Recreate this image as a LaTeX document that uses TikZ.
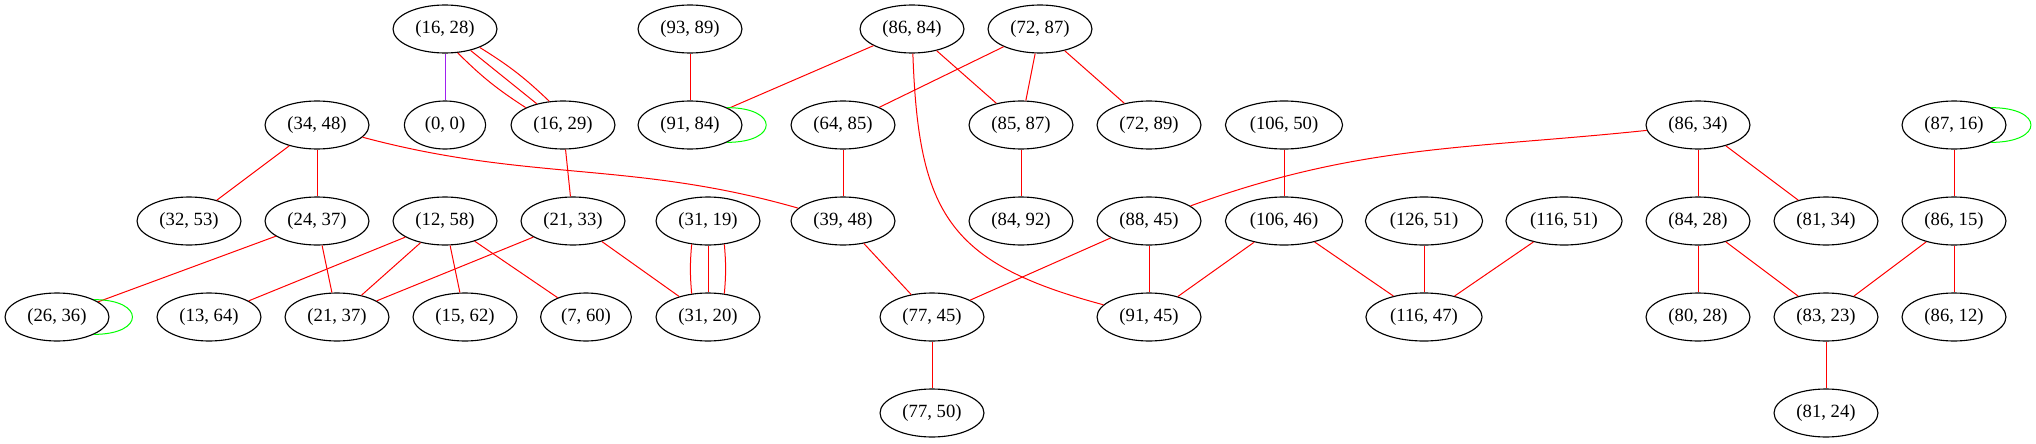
\documentclass[tikz,border=0pt]{standalone}
\usepackage{fontspec}
\setmainfont{Liberation Serif}
\usetikzlibrary{shapes.geometric}
\definecolor{gvpurple}{RGB}{160,32,240}

\begin{document}
\begin{tikzpicture}[
    x=0.75pt, y=-0.75pt,
    vert/.style={ellipse, draw, line width=0.85pt, inner xsep=5.4pt, inner ysep=2pt, minimum width=61pt, minimum height=36pt, font=\fontsize{14}{16}\selectfont},
    link/.style={red, line width=0.75pt},
    purplelink/.style={gvpurple, line width=0.75pt},
    selfloop/.style={green, line width=0.75pt}
]
    \useasboundingbox (0,0) rectangle (2036,443);

    % Baris 1
    \node[vert] (n1628) at (445,29) {(16, 28)};
    \node[vert] (n9389) at (690,29) {(93, 89)};
    \node[vert] (n8684) at (912,29) {(86, 84)};
    \node[vert] (n7287) at (1040,29) {(72, 87)};

    % Baris 2
    \node[vert] (n3448) at (317,125) {(34, 48)};
    \node[vert] (n00) at (445,125) {(0, 0)};
    \node[vert] (n1629) at (563,125) {(16, 29)};
    \node[vert] (n9184) at (690,125) {(91, 84)};
    \node[vert] (n6485) at (843,125) {(64, 85)};
    \node[vert] (n8587) at (1021,125) {(85, 87)};
    \node[vert] (n7289) at (1149,125) {(72, 89)};
    \node[vert] (n10650) at (1284,125) {(106, 50)};
    \node[vert] (n8634) at (1698,125) {(86, 34)};
    \node[vert] (n8716) at (1954,125) {(87, 16)};

    % Baris 3
    \node[vert] (n3253) at (189,221) {(32, 53)};
    \node[vert] (n2437) at (317,221) {(24, 37)};
    \node[vert] (n1258) at (445,221) {(12, 58)};
    \node[vert] (n2133) at (573,221) {(21, 33)};
    \node[vert] (n3119) at (708,221) {(31, 19)};
    \node[vert] (n3948) at (843,221) {(39, 48)};
    \node[vert] (n8492) at (1021,221) {(84, 92)};
    \node[vert] (n8845) at (1149,221) {(88, 45)};
    \node[vert] (n10646) at (1284,221) {(106, 46)};
    \node[vert] (n12651) at (1424,221) {(126, 51)};
    \node[vert] (n11651) at (1564,221) {(116, 51)};
    \node[vert] (n8428) at (1698,221) {(84, 28)};
    \node[vert] (n8134) at (1826,221) {(81, 34)};
    \node[vert] (n8615) at (1954,221) {(86, 15)};

    % Baris 4
    \node[vert] (n2636) at (57,317) {(26, 36)};
    \node[vert] (n1364) at (209,317) {(13, 64)};
    \node[vert] (n2137) at (337,317) {(21, 37)};
    \node[vert] (n1562) at (465,317) {(15, 62)};
    \node[vert] (n760) at (586,317) {(7, 60)};
    \node[vert] (n3120) at (708,317) {(31, 20)};
    \node[vert] (n7745) at (932,317) {(77, 45)};
    \node[vert] (n9145) at (1149,317) {(91, 45)};
    \node[vert] (n11647) at (1424,317) {(116, 47)};
    \node[vert] (n8028) at (1698,317) {(80, 28)};
    \node[vert] (n8323) at (1826,317) {(83, 23)};
    \node[vert] (n8612) at (1954,317) {(86, 12)};

    % Baris 5
    \node[vert] (n7750) at (932,413) {(77, 50)};
    \node[vert] (n8124) at (1826,413) {(81, 24)};

    % Sisi
    \draw[purplelink] (n1628) -- (n00);
    \draw[link] (n1628.-62) to[bend right=6] (n1629.155);
    \draw[link] (n1628.-40) -- (n1629.141);
    \draw[link] (n1628.-28) to[bend left=6] (n1629.120);
    \draw[link] (n3448) -- (n3253);
    \draw[link] (n3448) -- (n2437);
    \draw[link] (n3448) to[out=-15, in=164] (n3948);
    \draw[link] (n1629) -- (n2133);
    \draw[link] (n9389) -- (n9184);
    \draw[link] (n8684) -- (n9184);
    \draw[link] (n8684) -- (n8587);
    \draw[link] (n8684) to[out=-88, in=165, looseness=1.3] (n9145);
    \draw[link] (n7287) -- (n6485);
    \draw[link] (n7287) -- (n8587);
    \draw[link] (n7287) -- (n7289);
    \draw[link] (n6485) -- (n3948);
    \draw[link] (n8587) -- (n8492);
    \draw[link] (n10650) -- (n10646);
    \draw[link] (n8634) to[out=186, in=20] (n8845);
    \draw[link] (n8634) -- (n8428);
    \draw[link] (n8634) -- (n8134);
    \draw[link] (n8716) -- (n8615);
    \draw[link] (n2437) -- (n2636);
    \draw[link] (n2437) -- (n2137);
    \draw[link] (n1258) -- (n1364);
    \draw[link] (n1258) -- (n2137);
    \draw[link] (n1258) -- (n1562);
    \draw[link] (n1258) -- (n760);
    \draw[link] (n2133) -- (n2137);
    \draw[link] (n2133) -- (n3120);
    \draw[link] (n3119.-125) to[bend right=5] (n3120.125);
    \draw[link] (n3119) -- (n3120);
    \draw[link] (n3119.-55) to[bend left=5] (n3120.55);
    \draw[link] (n3948) -- (n7745);
    \draw[link] (n8845) -- (n7745);
    \draw[link] (n8845) -- (n9145);
    \draw[link] (n10646) -- (n9145);
    \draw[link] (n10646) -- (n11647);
    \draw[link] (n12651) -- (n11647);
    \draw[link] (n11651) -- (n11647);
    \draw[link] (n8428) -- (n8028);
    \draw[link] (n8428) -- (n8323);
    \draw[link] (n8615) -- (n8323);
    \draw[link] (n8615) -- (n8612);
    \draw[link] (n8323) -- (n8124);
    \draw[link] (n7745) -- (n7750);

    % Loop
    \draw[selfloop] (n2636.25) .. controls +(51,0) and +(51,0) .. (n2636.-25);
    \draw[selfloop] (n9184.25) .. controls +(52,0) and +(52,0) .. (n9184.-25);
    \draw[selfloop] (n8716.25) .. controls +(53,0) and +(53,0) .. (n8716.-25);
\end{tikzpicture}
\end{document}
